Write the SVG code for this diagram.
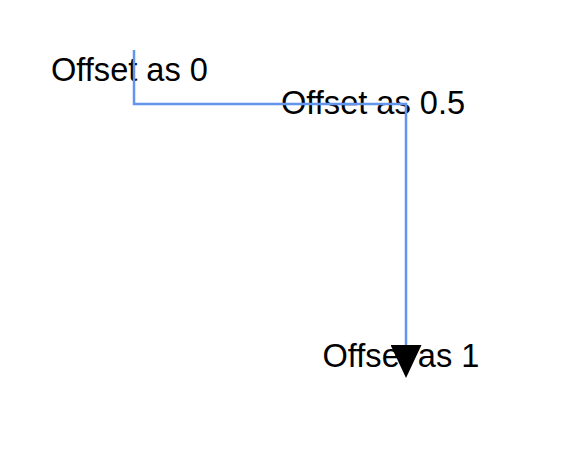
<svg xmlns="http://www.w3.org/2000/svg" width="564" height="475" viewBox="0 0 564 475">
<style>
.lbl{font-family:"Liberation Sans",Arial,sans-serif;font-size:32.6px;fill:#000}
.conn{fill:none;stroke:#6495ED;stroke-width:2.5}
</style>
<defs>
<marker id="arr" markerUnits="userSpaceOnUse" markerWidth="33" markerHeight="31" refX="0" refY="15.5" orient="auto" viewBox="0 0 33 31">
<path d="M0,0 L33,15.5 L0,31 Z" fill="#000"/>
</marker>
</defs>
<rect width="564" height="475" fill="#fff"/>
<g id="label0"><text class="lbl" x="51" y="80.5">Offset as 0</text></g>
<g id="label05"><text class="lbl" x="281" y="114">Offset as 0.5</text></g>
<g id="label1"><text class="lbl" x="322.5" y="367">Offset as 1</text></g>
<g id="connectors">
<path class="conn" d="M134,50 V104 H406 V345" marker-end="url(#arr)"/>
</g>
</svg>
